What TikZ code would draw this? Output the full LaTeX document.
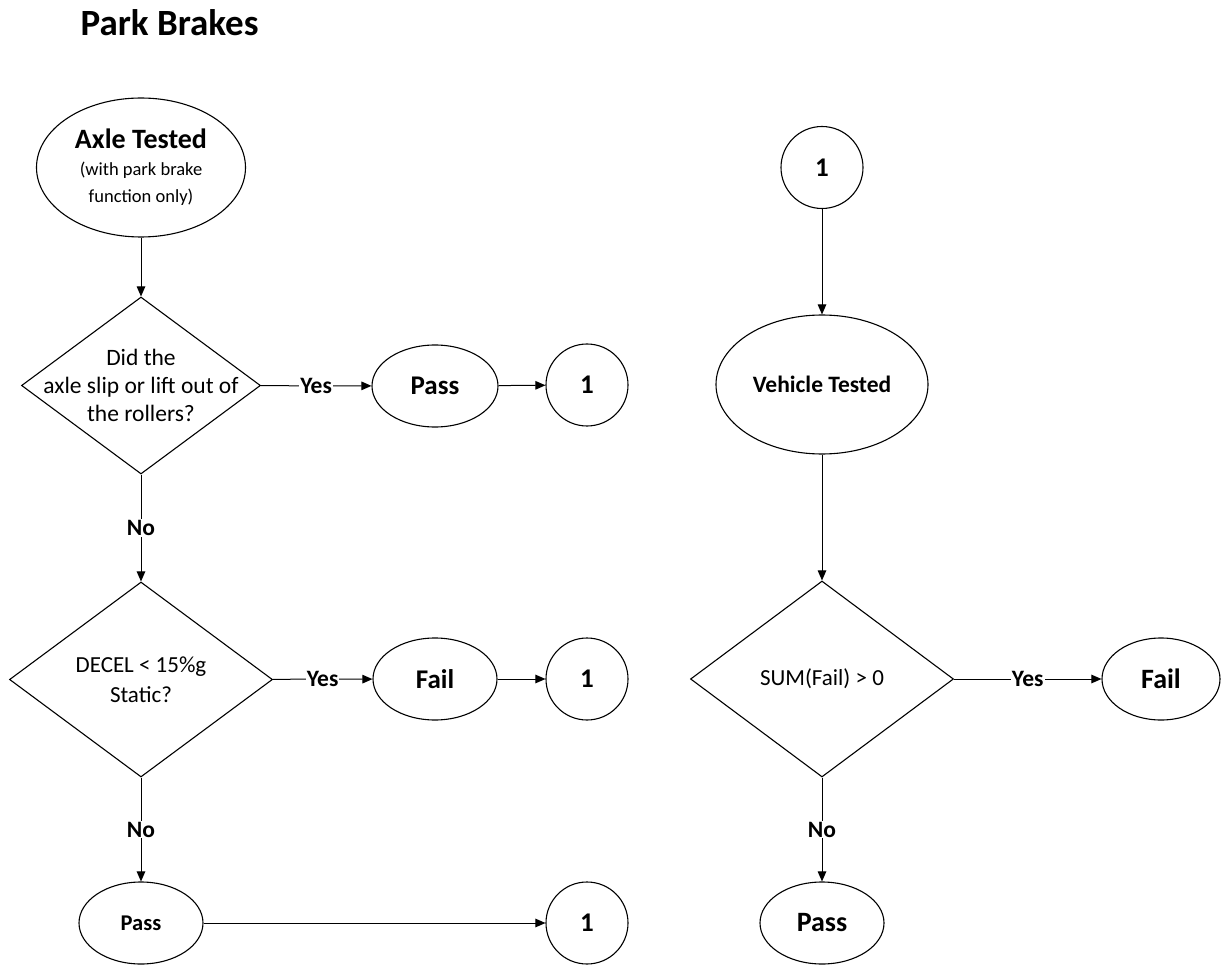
\documentclass[tikz,border=0pt]{standalone}
\usepackage{fontspec}
\setmainfont{Carlito}
\usetikzlibrary{shapes.geometric,arrows.meta}
\begin{document}
\begin{tikzpicture}[x=1pt,y=-1pt,
  oval/.style={draw, ellipse, inner sep=0pt, align=center, line width=1.1pt},
  conn/.style={draw, circle, minimum size=82pt, inner sep=0pt, line width=1.1pt,
               font=\bfseries\fontsize{27}{30}\selectfont},
  decision/.style={draw, diamond, inner sep=0pt, line width=1.1pt},
  qtext/.style={align=center},
  flow/.style={-{Triangle[length=10pt,width=8.5pt]}, line width=1pt},
  tag/.style={fill=white, inner sep=1pt, font=\bfseries\fontsize{23.5}{26}\selectfont}
]
\useasboundingbox (0,0) rectangle (1221,965);

% title
\node[anchor=base west, font=\bfseries\fontsize{37}{42}\selectfont] (title) at (77,36) {Park Brakes};

% ---- axle test (left column) ----
\node[oval, minimum width=209pt, minimum height=139pt, font=\fontsize{18.5}{27}\selectfont]
  (axle) at (141,167.5)
  {{\bfseries\fontsize{28}{30}\selectfont Axle Tested}\\(with park brake\\function only)};

\node[decision, minimum width=239pt, minimum height=177pt] (q1) at (141,385.5) {};
\node[qtext, font=\fontsize{23.5}{28}\selectfont] (q1t) at (q1) {Did the\\axle slip or lift out of\\the rollers?};

\node[oval, minimum width=126pt, minimum height=82pt, font=\bfseries\fontsize{27}{30}\selectfont]
  (pass1) at (435,386) {Pass};
\node[conn] (c1) at (587,385) {1};

\node[decision, minimum width=263pt, minimum height=195pt] (q2) at (141,679.5) {};
\node[qtext, font=\fontsize{23}{30}\selectfont] (q2t) at (q2) {DECEL {<} 15\%g\\Static?};

\node[oval, minimum width=124pt, minimum height=82pt, font=\bfseries\fontsize{27}{30}\selectfont]
  (fail1) at (435,679) {Fail};
\node[conn] (c2) at (587,679) {1};

\node[oval, minimum width=124pt, minimum height=82pt, font=\bfseries\fontsize{22.5}{26}\selectfont]
  (pass2) at (141,923) {Pass};
\node[conn] (c3) at (587,923) {1};

% ---- vehicle test (right column) ----
\node[conn] (c4) at (822,167.5) {1};
\node[oval, minimum width=212pt, minimum height=139pt, font=\bfseries\fontsize{23.5}{26}\selectfont]
  (veh) at (822,384.5) {Vehicle Tested};

\node[decision, minimum width=263pt, minimum height=196pt] (q3) at (822,679) {};
\node[qtext, font=\fontsize{23}{26}\selectfont] (q3t) at (q3) {SUM(Fail) {>} 0};

\node[oval, minimum width=118pt, minimum height=82pt, font=\bfseries\fontsize{28}{30}\selectfont]
  (fail2) at (1161,679) {Fail};
\node[oval, minimum width=124pt, minimum height=82pt, font=\bfseries\fontsize{28}{30}\selectfont]
  (pass3) at (822,923) {Pass};

% ---- connectors ----
\draw[flow] (axle) -- (q1);
\draw[flow] (q1) -- node[tag] {Yes} (pass1);
\draw[flow] (pass1) -- (c1);
\draw[flow] (q1) -- node[tag] {No} (q2);
\draw[flow] (q2) -- node[tag] {Yes} (fail1);
\draw[flow] (fail1) -- (c2);
\draw[flow] (q2) -- node[tag] {No} (pass2);
\draw[flow] (pass2) -- (c3);

\draw[flow] (c4) -- (veh);
\draw[flow] (veh) -- (q3);
\draw[flow] (q3) -- node[tag] {Yes} (fail2);
\draw[flow] (q3) -- node[tag] {No} (pass3);
\end{tikzpicture}
\end{document}
